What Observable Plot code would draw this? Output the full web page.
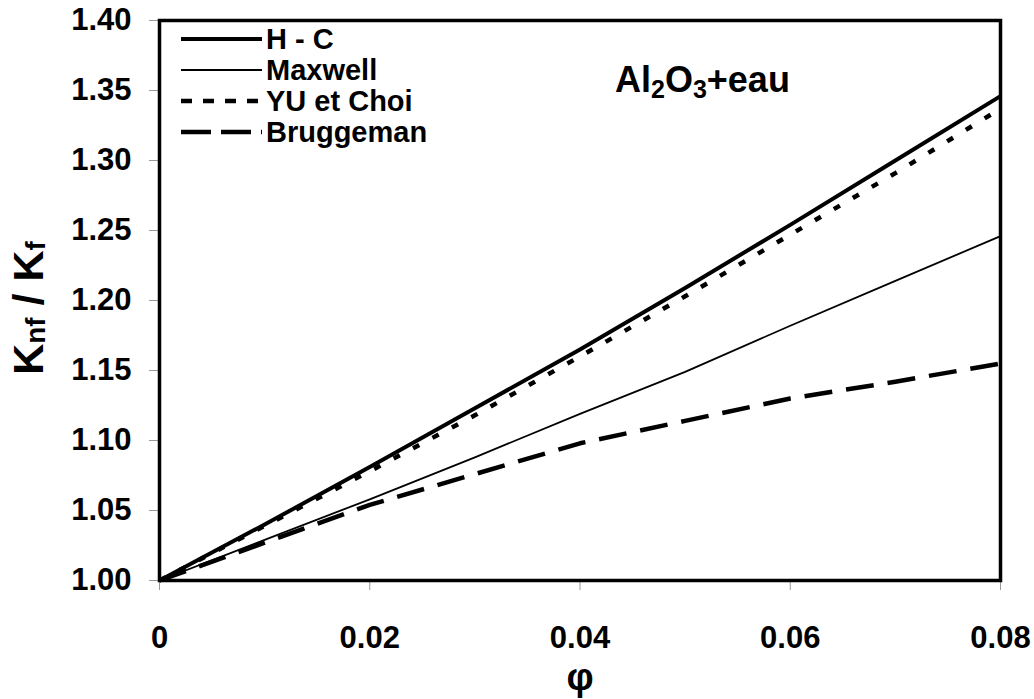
<!DOCTYPE html>
<html>
<head>
<meta charset="utf-8">
<script src="https://cdn.jsdelivr.net/npm/d3@7"></script>
<script src="https://cdn.jsdelivr.net/npm/@observablehq/plot@0.6"></script>
<style>
  body { margin: 0; background: #fff; }
  #chart { width: 1034px; height: 699px; }
</style>
</head>
<body>
<div id="chart"></div>
<script>
// ---- data ----
const phi        = [0, 0.01, 0.02, 0.03, 0.04, 0.05, 0.06, 0.07, 0.08];
const hamilton   = [1, 1.040, 1.081, 1.123, 1.165, 1.209, 1.254, 1.300, 1.346];
const maxwell    = [1, 1.029, 1.058, 1.088, 1.119, 1.149, 1.182, 1.214, 1.246];
const yuChoi     = [1, 1.039, 1.078, 1.118, 1.160, 1.203, 1.247, 1.291, 1.337];
const bruggeman  = [1, 1.027, 1.054, 1.076, 1.098, 1.114, 1.130, 1.142, 1.155];
const seriesNames = ["H - C", "Maxwell", "YU et Choi", "Bruggeman"];
const xTicks = [0, 0.02, 0.04, 0.06, 0.08];
const yTicks = [1.00, 1.05, 1.10, 1.15, 1.20, 1.25, 1.30, 1.35, 1.40];

const seriesValues = [hamilton, maxwell, yuChoi, bruggeman];
const rows = seriesNames.map((name, s) => phi.map((p, i) => ({phi: p, k: seriesValues[s][i], model: name})));

// styles (kept separate from data)
const styles = {
  "H - C":      {strokeWidth: 4,   dash: null},
  "Maxwell":    {strokeWidth: 1.8, dash: null},
  "YU et Choi": {strokeWidth: 4.5, dash: "7,15"},
  "Bruggeman":  {strokeWidth: 4.5, dash: "28,14"}
};
const legendDash = {"YU et Choi": "11,11", "Bruggeman": "30,10"};

const FONT = "'Liberation Sans', Arial, Helvetica, sans-serif";

const plot = Plot.plot({
  width: 1034,
  height: 699,
  marginLeft: 159,
  marginRight: 34,
  marginTop: 20,
  marginBottom: 119,
  style: {fontFamily: FONT, fontWeight: "bold", color: "black", background: "white"},
  x: {domain: [0, 0.08]},
  y: {domain: [1, 1.4]},
  marks: [
    Plot.axisX({ticks: xTicks, tickFormat: d => d === 0 ? "0" : d3.format(".2f")(d),
      tickSize: 10, tickPadding: 35, stroke: "#999", fill: "black",
      fontSize: 31, fontWeight: "bold", label: null}),
    Plot.axisY({ticks: yTicks, tickFormat: d3.format(".2f"),
      tickSize: 10, tickPadding: 18, stroke: "#999", fill: "black",
      fontSize: 31, fontWeight: "bold", label: null}),
    ...rows.map(r => Plot.line(r, {x: "phi", y: "k", stroke: "black",
      strokeWidth: styles[r[0].model].strokeWidth,
      strokeDasharray: styles[r[0].model].dash,
      strokeLinecap: "butt", strokeLinejoin: "round"})),
    Plot.frame({stroke: "black", strokeWidth: 3.5})
  ]
});

document.getElementById("chart").appendChild(plot);

const svg = d3.select(plot);

// legend
const lg = svg.append("g").attr("font-family", FONT).attr("font-weight", "bold")
  .attr("font-size", 29).attr("text-anchor", "start");
seriesNames.forEach((name, i) => {
  const cy = 39 + i * 31;
  lg.append("line").attr("x1", 181).attr("x2", 262).attr("y1", cy).attr("y2", cy)
    .attr("stroke", "black").attr("stroke-width", styles[name].strokeWidth)
    .attr("stroke-dasharray", legendDash[name] || null);
  lg.append("text").attr("x", 266).attr("y", cy).attr("dy", "0.36em").text(name);
});

// title Al2O3+eau
const t = svg.append("text").attr("x", 615).attr("y", 92).attr("text-anchor", "start")
  .attr("font-family", FONT).attr("font-weight", "bold").attr("font-size", 36);
t.append("tspan").text("Al");
t.append("tspan").attr("font-size", 25).attr("dy", 6).text("2");
t.append("tspan").attr("dy", -6).text("O");
t.append("tspan").attr("font-size", 25).attr("dy", 6).text("3");
t.append("tspan").attr("dy", -6).text("+eau");

// y label K_nf / K_f
const yl = svg.append("text").attr("transform", "translate(43,308) rotate(-90)")
  .attr("text-anchor", "middle").attr("font-family", FONT).attr("font-weight", "bold").attr("font-size", 43);
yl.append("tspan").text("K");
yl.append("tspan").attr("font-size", 28).attr("dy", 2).text("nf");
yl.append("tspan").attr("dy", -2).text(" / K");
yl.append("tspan").attr("font-size", 28).attr("dy", 2).text("f");

// x label phi
svg.append("text").attr("x", 580).attr("y", 690).attr("text-anchor", "middle")
  .attr("font-family", FONT).attr("font-weight", "bold").attr("font-size", 38).text("φ");
</script>
</body>
</html>
